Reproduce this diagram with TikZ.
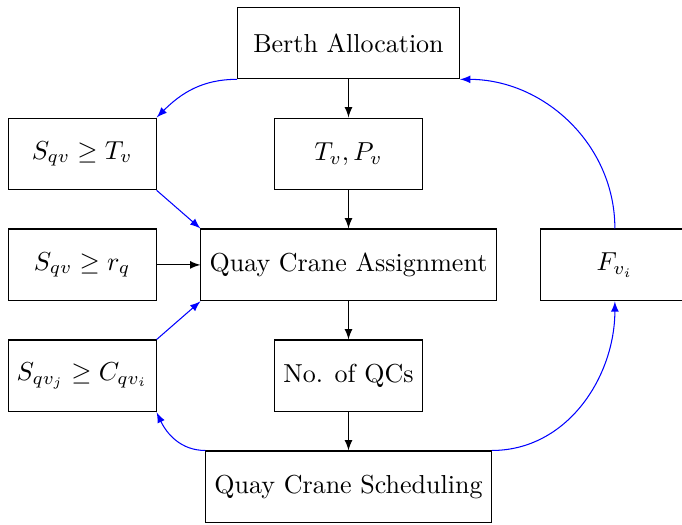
\documentclass[tikz,border=0pt]{standalone}
\usepackage{amsmath}
\usepackage{amsfonts}
\usetikzlibrary{arrows}

\begin{document}
\begin{tikzpicture}[->,>=latex,auto,
	box node/.style={rectangle,draw,minimum width=2cm,minimum height=0.97cm},
	link/.style={blue}]
	\useasboundingbox (-4.71,-3.51) rectangle (4.507,3.58);
	
	\node[box node,minimum width=3cm] (ba) at (0,3) {Berth Allocation};
	\node[box node] (c1) at (-3.6,1.5) {$S_{qv} \geq T_v$};
	\node[box node] (tp) at (0,1.5) {$T_v, P_v$};
	\node[box node] (c2) at (-3.6,0) {$S_{qv} \geq r_q$};
	\node[box node] (qca) at (0,0) {Quay Crane Assignment};
	\node[box node] (fv) at (3.6,0) {$F_{v_i}$};
	\node[box node,inner xsep=1pt] (c3) at (-3.6,-1.5) {$S_{qv_j} \geq C_{qv_i}$};
	\node[box node] (nq) at (0,-1.5) {No. of QCs};
	\node[box node] (qcs) at (0,-3) {Quay Crane Scheduling};
	%main flow
	\draw (ba) -- (tp);
	\draw (tp) -- (qca);
	\draw (qca) -- (nq);
	\draw (nq) -- (qcs);
	\draw (c2) -- (qca);
	%constraints
	\path[link]
	(ba.south west) edge [out=180,in=45] (c1.north east)
	(c1.south east) edge (qca.north west)
	(c3.north east) edge (qca.south west)
	(qcs.north west) edge [out=180,in=-65] (c3.south east)
	(qcs.north east) edge [out=0,in=-90] (fv.south)
	(fv.north) edge [out=90,in=0] (ba.south east);
\end{tikzpicture}
\end{document}
